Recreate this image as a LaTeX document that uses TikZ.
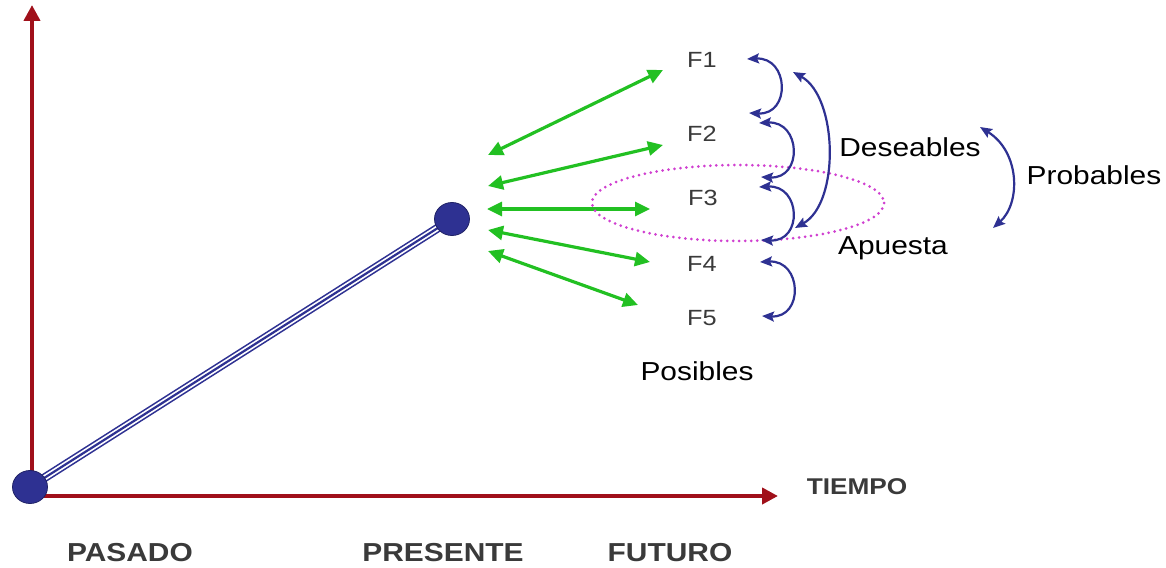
\documentclass[tikz,border=0pt]{standalone}
\usepackage{fontspec}
\setmainfont[FakeStretch=1.15]{Liberation Sans}
\usetikzlibrary{arrows.meta,positioning}
\definecolor{axisred}{HTML}{A0101A}
\definecolor{pathblue}{HTML}{2E3192}
\definecolor{futgreen}{HTML}{22C022}
\definecolor{betpink}{HTML}{D040D0}
\definecolor{labelgrey}{HTML}{3A3A3A}
\tikzset{
	>=Triangle,
	axisline/.style={
		draw=axisred,
		line width=2.4pt,
		-{Triangle[length=8pt,width=8pt]}},
	timepoint/.style={
		ellipse,
		fill=pathblue,
		draw=pathblue!70!black,
		line width=0.4pt,
		minimum width=17.5pt,
		minimum height=16.5pt,
		inner sep=0pt},
	futedge/.style={
		draw=futgreen,
		line width=1.6pt,
		{Triangle[length=7.5pt,width=7pt]}-{Triangle[length=7.5pt,width=7pt]}},
	linkedge/.style={
		draw=pathblue,
		line width=1.1pt,
		{Stealth[length=6pt,width=5pt,inset=1pt]}-{Stealth[length=6pt,width=5pt,inset=1pt]}},
	futlabel/.style={
		text=labelgrey,
		font=\fontsize{11}{13}\selectfont,
		inner sep=0pt,
		text depth=0pt},
	setlabel/.style={
		text=black,
		font=\fontsize{13}{15}\selectfont,
		inner sep=0pt,
		text depth=0pt},
	timelabel/.style={
		text=labelgrey,
		font=\bfseries\fontsize{13}{15}\selectfont,
		inner sep=0pt,
		text depth=0pt}
}
\usetikzlibrary{shapes.geometric}

\begin{document}
\begin{tikzpicture}[
			x=0.5pt, y=-0.5pt,
			]
    \useasboundingbox (0,0) rectangle (1166,567);

    % axes
    \coordinate (O) at (32,496);
    \coordinate (YT) at (32,5);
    \coordinate (XT) at (778,496);
    \draw[axisline] ([yshift=1.2pt]O) -- (YT);
    \draw[axisline] ([xshift=-1.2pt]O) -- (XT);

    % past -> present
    \coordinate (ORGc) at (30,487);
    \coordinate (PREc) at (452,219);
    \draw[pathblue, line width=4.4pt] (ORGc) -- (PREc);
    \draw[white, line width=2.8pt] (ORGc) -- (PREc);
    \draw[pathblue, line width=1.1pt] (ORGc) -- (PREc);
    \node[timepoint] (ORG) at (ORGc) {};
    \node[timepoint] (PRE) at (PREc) {};

    % futures
    \node[futlabel] (F1) at (702,60) {F1};
    \node[futlabel] (F2) at (702,134) {F2};
    \node[futlabel] (F3) at (703,198) {F3};
    \node[futlabel] (F4) at (702,264) {F4};
    \node[futlabel] (F5) at (702,318) {F5};

    \coordinate (G1a) at (488,155);  \coordinate (G1b) at (663,70);
    \coordinate (G2a) at (488,186);  \coordinate (G2b) at (663,145);
    \coordinate (G3a) at (487,209);  \coordinate (G3b) at (650,209);
    \coordinate (G4a) at (488,230);  \coordinate (G4b) at (650,262);
    \coordinate (G5a) at (488,251);  \coordinate (G5b) at (638,305);
    \path (G1a) edge[futedge] (G1b);
    \path (G2a) edge[futedge] (G2b);
    \path (G3a) edge[futedge] (G3b);
    \path (G4a) edge[futedge] (G4b);
    \path (G5a) edge[futedge] (G5b);

    % bet
    \draw[betpink, line width=1.5pt, line cap=round, dash pattern=on 0pt off 3pt]
        (738,203) ellipse [x radius=146, y radius=38];

    % links between futures
    \coordinate (L1a) at (747,59);  \coordinate (L1b) at (749,113);
    \coordinate (L2a) at (759,123); \coordinate (L2b) at (761,177);
    \coordinate (L3a) at (759,187); \coordinate (L3b) at (761,240);
    \coordinate (L4a) at (760,262); \coordinate (L4b) at (762,316);
    \coordinate (L5a) at (793,72);  \coordinate (L5b) at (795,228);
    \coordinate (L6a) at (980,127); \coordinate (L6b) at (993,228);
    \draw[linkedge] (L1a) .. controls +(42,-2) and +(42,2) .. (L1b);
    \draw[linkedge] (L2a) .. controls +(42,-2) and +(42,2) .. (L2b);
    \draw[linkedge] (L3a) .. controls +(42,-2) and +(42,2) .. (L3b);
    \draw[linkedge] (L4a) .. controls +(42,-2) and +(42,2) .. (L4b);
    \draw[linkedge] (L5a) .. controls +(45,25) and +(45,-25) .. (L5b);
    \draw[linkedge] (L6a) .. controls +(40,25) and +(28,-25) .. (L6b);

    \node[setlabel] (DES) at (910,147) {Deseables};
    \node[setlabel] (PRO) at (1094,175) {Probables};
    \node[setlabel] (APU) at (893,246) {Apuesta};
    \node[setlabel] (POS) at (697,371) {Posibles};

    % time labels
    \node[timelabel, font=\bfseries\fontsize{11.4}{13}\selectfont] (TIE) at (857,487) {TIEMPO};
    \node[timelabel] (LPAS) at (130,552) {PASADO};
    \node[timelabel] (LPRE) at (443,552) {PRESENTE};
    \node[timelabel] (LFUT) at (670,552) {FUTURO};
\end{tikzpicture}
\end{document}
